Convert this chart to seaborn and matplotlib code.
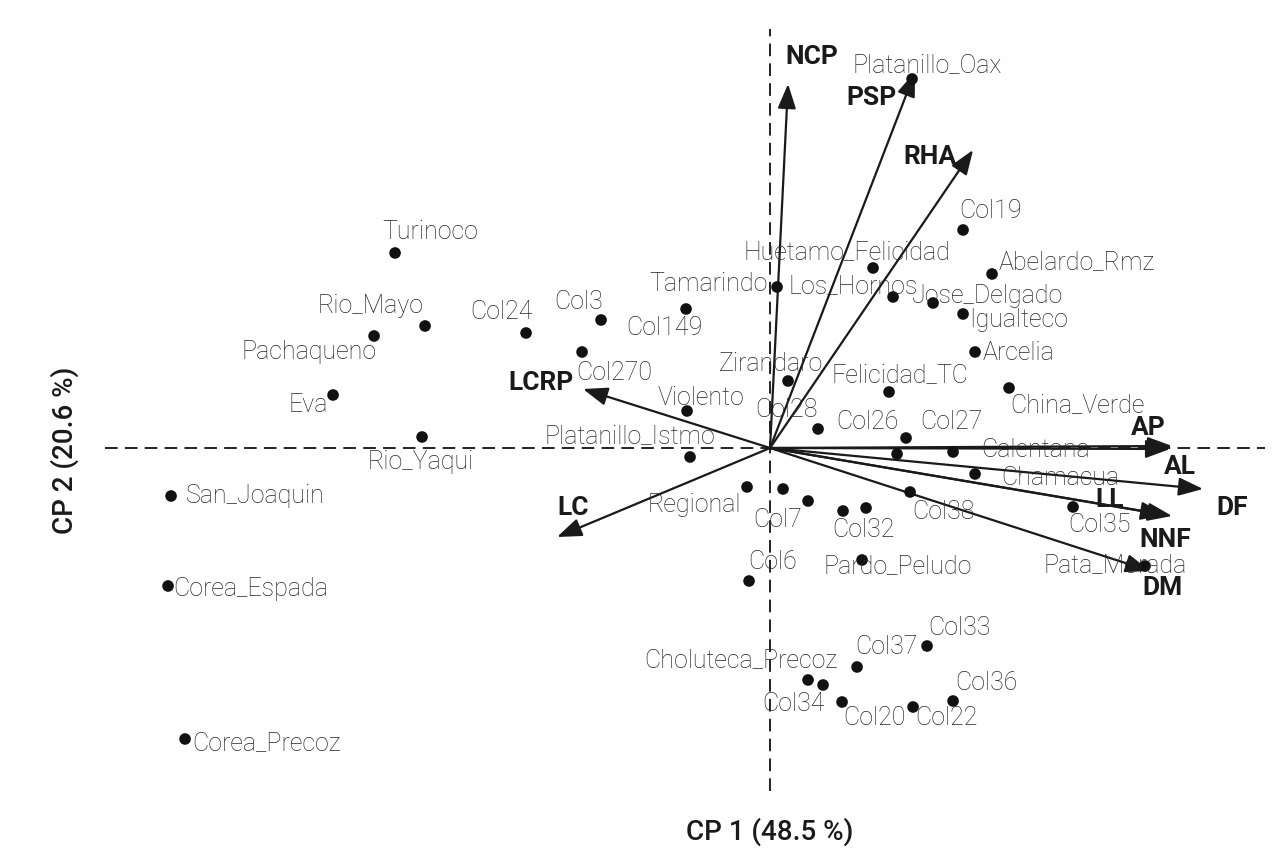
"""
Biplot de componentes principales (CP1 vs CP2) con variedades y variables.
"""

import matplotlib
matplotlib.use('Agg')
import matplotlib.pyplot as plt
import seaborn as sns
import pandas as pd

# --- datos: puntuaciones de las variedades (CP1, CP2) ---
variedades = [
    'Turinoco', 'Rio_Mayo', 'Pachaqueno', 'Eva', 'Rio_Yaqui', 'San_Joaquin',
    'Corea_Espada', 'Corea_Precoz', 'Col24', 'Col3', 'Col149', 'Tamarindo',
    'Col270', 'Violento', 'Platanillo_Istmo', 'Zirandaro', 'Col28',
    'Huetamo_Felicidad', 'Los_Hornos', 'Jose_Delgado', 'Col19', 'Abelardo_Rmz',
    'Igualteco', 'Arcelia', 'Felicidad_TC', 'China_Verde', 'Col26', 'Col27',
    'Calentana', 'Chamacua', 'Col38', 'Col35', 'Pata_Morada', 'Platanillo_Oax',
    'Regional', 'Col7', '', 'Col32', '', 'Pardo_Peludo', 'Col6', 'Col33',
    'Col37', 'Choluteca_Precoz', 'Col34', 'Col20', 'Col22', 'Col36',
]
cp1 = [
    -3.75, -3.45, -3.96, -4.37, -3.48, -5.99,
    -6.02, -5.85, -2.44, -1.69, -0.84, 0.07,
    -1.88, -0.83, -0.80, 0.18, 0.48,
    1.03, 1.23, 1.63, 1.93, 2.22,
    1.93, 2.05, 1.19, 2.39, 1.27, 1.36,
    1.83, 2.05, 1.40, 3.03, 3.75, 1.42,
    -0.23, 0.13, 0.38, 0.73, 0.96, 0.92, -0.21, 1.57,
    0.87, 0.38, 0.53, 0.72, 1.43, 1.83,
]
cp2 = [
    1.95, 1.22, 1.12, 0.53, 0.11, -0.48,
    -1.38, -2.91, 1.15, 1.28, 1.39, 1.61,
    0.96, 0.37, -0.09, 0.67, 0.19,
    1.80, 1.51, 1.45, 2.18, 1.74,
    1.34, 0.96, 0.56, 0.60, -0.06, 0.10,
    -0.04, -0.26, -0.44, -0.59, -1.18, 3.69,
    -0.39, -0.41, -0.53, -0.63, -0.60, -1.12, -1.33, -1.98,
    -2.19, -2.32, -2.37, -2.54, -2.59, -2.53,
]

# --- datos: cargas de las variables (flechas) ---
variables = ['NCP', 'PSP', 'RHA', 'LCRP', 'LC', 'AP', 'AL', 'DF', 'LL', 'NNF', 'DM']
carga1 = [0.18, 1.45, 2.03, -1.87, -2.13, 4.02, 4.00, 4.33, 3.95, 4.02, 3.80]
carga2 = [3.64, 3.76, 2.98, 0.59, -0.89, 0.02, -0.01, -0.41, -0.67, -0.68, -1.23]

# desplazamiento de las etiquetas (pixeles), como lo haria ggrepel
desp_var = [
    (35, 22), (-54, 21), (-65, -15), (-25, -9), (-1, -24), (84, 1),
    (83, -2), (82, -3), (-25, 22), (-22, 19), (-22, -18), (-69, 4),
    (32, -20), (14, 14), (-60, 22), (-17, 18), (-32, 20),
    (-26, 17), (-40, 12), (54, 8), (28, 20), (85, 13),
    (56, -5), (43, 0), (11, 18), (68, -16), (-30, 33), (45, 17),
    (83, 3), (85, -3), (33, -19), (26, -17), (-30, 2), (15, 15),
    (-53, -17), (-5, -30), (0, 0), (20, -18), (0, 0), (36, -5), (24, 20), (32, 19),
    (29, 21), (-67, 21), (-30, -18), (32, -15), (33, -10), (33, 19),
]
desp_flecha = [(24, 28), (-44, -25), (-43, -6), (-42, 7), (16, 30), (-24, 19),
               (10, -17), (29, -18), (-55, 16), (-7, -23), (12, -16)]

df = pd.DataFrame({'variedad': variedades, 'CP1': cp1, 'CP2': cp2})

sns.set_theme(style='white')
plt.rcParams['font.family'] = ['Roboto', 'DejaVu Sans']

fig = plt.figure(figsize=(12.75, 8.54), dpi=100)
ax = fig.add_axes([0.0824, 0.0726, 0.9098, 0.8923])
ax.set_xlim(-6.65, 4.95)
ax.set_ylim(-3.43, 4.19)

# ejes de referencia
ax.axhline(0, color='#111111', lw=1.3, ls=(0, (7, 4)), zorder=1)
ax.axvline(0, color='#111111', lw=1.3, ls=(0, (7, 4)), zorder=1)

# flechas de las variables
for nombre, x, y, (dx, dy) in zip(variables, carga1, carga2, desp_flecha):
    ax.annotate('', xy=(x, y), xytext=(0, 0),
                arrowprops=dict(arrowstyle='-|>,head_length=0.75,head_width=0.28',
                                color='#1a1a1a', lw=1.6, mutation_scale=20,
                                shrinkA=0, shrinkB=0), zorder=3)
    ax.annotate(nombre, xy=(x, y), xytext=(dx, dy), textcoords='offset pixels',
                ha='center', va='center', fontsize=19, fontweight='bold',
                color='#1a1a1a', zorder=4)

# puntos de las variedades
sns.scatterplot(data=df, x='CP1', y='CP2', ax=ax, color='#111111', s=70,
                edgecolor='none', legend=False, zorder=5)

for nombre, x, y, (dx, dy) in zip(variedades, cp1, cp2, desp_var):
    if not nombre:
        continue
    ax.annotate(nombre, xy=(x, y), xytext=(dx, dy), textcoords='offset pixels',
                ha='center', va='center', fontsize=18, fontweight='light',
                color='#262626', zorder=6)

ax.set_xticks([])
ax.set_yticks([])
sns.despine(ax=ax, left=True, bottom=True)

ax.set_xlabel('CP 1 (48.5 %)', fontsize=20, fontweight='medium', color='#1a1a1a')
ax.set_ylabel('CP 2 (20.6 %)', fontsize=20, fontweight='medium', color='#1a1a1a')
ax.xaxis.set_label_coords(0.5733, -0.0525)
ax.xaxis.label.set_verticalalignment('center')
ax.yaxis.set_label_coords(-0.0345, 0.4488)
ax.yaxis.label.set_verticalalignment('center')

plt.savefig('out.png', dpi=100)
